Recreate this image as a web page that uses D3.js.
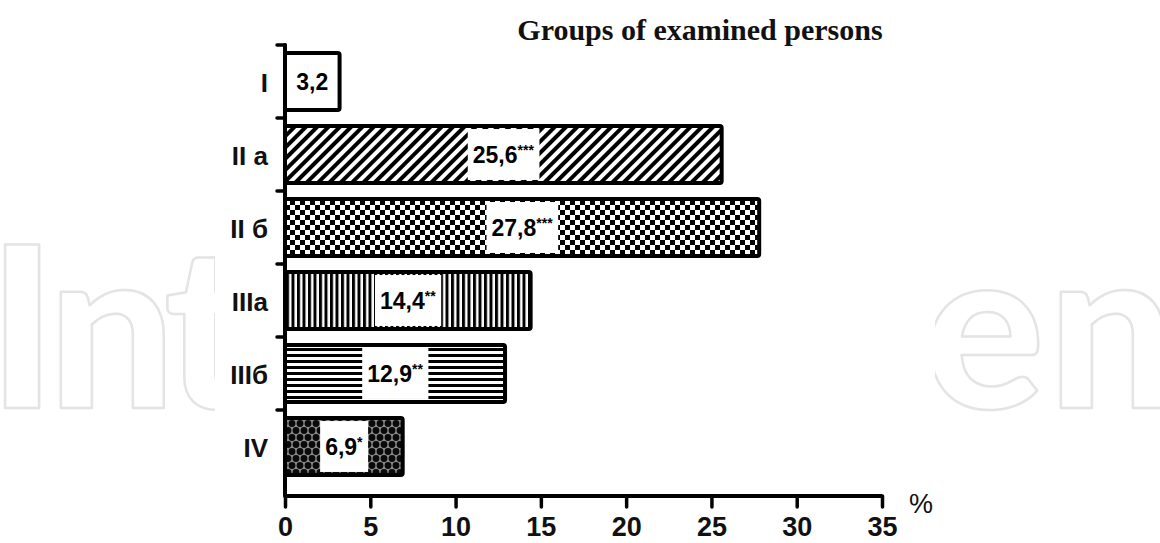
<!DOCTYPE html>
<html>
<head>
<meta charset="utf-8">
<script src="https://cdn.jsdelivr.net/npm/d3@7"></script>
<style>
  html, body { margin: 0; padding: 0; background: #fff; }
  svg { display: block; }
</style>
</head>
<body>
<svg id="chart" width="1160" height="543"></svg>
<script>
// Share of examined persons in each group, %
const categories = ["I", "II a", "II б", "IIIa", "IIIб", "IV"];
const values = [3.2, 25.6, 27.8, 14.4, 12.9, 6.9];
const significance = ["", "***", "***", "**", "**", "*"];
const xTicks = [0, 5, 10, 15, 20, 25, 30, 35];
const title = "Groups of examined persons";
const unit = "%";

// hatch fill per group, in category order
const fillIds = [null, "diag", "check", "vert", "horiz", "dots"];

const svg = d3.select("#chart");
const W = 1160, H = 543;
const defs = svg.append("defs");

// ---- faint publisher mark at the page edges (kept out of the chart panel) ----
defs.append("clipPath").attr("id", "edges")
  .call(cp => {
    cp.append("rect").attr("x", 0).attr("y", 0).attr("width", 215).attr("height", H);
    cp.append("rect").attr("x", 935).attr("y", 0).attr("width", W - 935).attr("height", H);
  });
const markG = svg.append("g").attr("clip-path", "url(#edges)");
function markPiece(str, xs) {
  const t = markG.append("text")
    .attr("y", 408)
    .attr("font-family", "Lato, Roboto, sans-serif")
    .attr("font-weight", 900)
    .attr("font-size", 225)
    .attr("fill", "#fff")
    .attr("stroke", "#e4e4e4")
    .attr("stroke-width", 2.5)
    .attr("stroke-linejoin", "round");
  str.split("").forEach((ch, i) => t.append("tspan").attr("x", xs[i]).text(ch));
}
markPiece("Int", [-12, 48, 164]);
markPiece("en", [924, 1048]);

// ---- patterns ----
const pDiag = defs.append("pattern").attr("id", "diag").attr("patternUnits", "userSpaceOnUse")
  .attr("width", 8).attr("height", 8).attr("patternTransform", "rotate(45)");
pDiag.append("rect").attr("width", 8).attr("height", 8).attr("fill", "#fff");
pDiag.append("rect").attr("width", 4).attr("height", 8).attr("fill", "#000");

const pCheck = defs.append("pattern").attr("id", "check").attr("patternUnits", "userSpaceOnUse")
  .attr("width", 10).attr("height", 10);
pCheck.append("rect").attr("width", 10).attr("height", 10).attr("fill", "#fff");
pCheck.append("rect").attr("width", 5).attr("height", 5).attr("fill", "#000");
pCheck.append("rect").attr("x", 5).attr("y", 5).attr("width", 5).attr("height", 5).attr("fill", "#000");

const pVert = defs.append("pattern").attr("id", "vert").attr("patternUnits", "userSpaceOnUse")
  .attr("width", 5.5).attr("height", 10);
pVert.append("rect").attr("width", 5.5).attr("height", 10).attr("fill", "#fff");
pVert.append("rect").attr("width", 3).attr("height", 10).attr("fill", "#000");

const pHoriz = defs.append("pattern").attr("id", "horiz").attr("patternUnits", "userSpaceOnUse")
  .attr("width", 10).attr("height", 6);
pHoriz.append("rect").attr("width", 10).attr("height", 6).attr("fill", "#fff");
pHoriz.append("rect").attr("width", 10).attr("height", 3).attr("fill", "#000");

const pDots = defs.append("pattern").attr("id", "dots").attr("patternUnits", "userSpaceOnUse")
  .attr("width", 8).attr("height", 14);
pDots.append("rect").attr("width", 8).attr("height", 14).attr("fill", "#8a8a8a");
[[4, 3.5], [0, 10.5], [8, 10.5]].forEach(([cx, cy]) =>
  pDots.append("circle").attr("cx", cx).attr("cy", cy).attr("r", 3.4).attr("fill", "#0a0a0a"));

// ---- scales ----
const x = d3.scaleLinear().domain([0, 35]).range([285, 882]);
const y = d3.scaleBand().domain(categories).range([45, 483])
  .paddingInner(0.22).paddingOuter(0.11);
const axisY = 496;

// ---- title ----
svg.append("text")
  .attr("x", 700).attr("y", 40)
  .attr("text-anchor", "middle")
  .attr("font-family", "Liberation Serif, Times New Roman, serif")
  .attr("font-weight", "bold")
  .attr("font-size", 30)
  .attr("fill", "#111")
  .text(title);

// ---- bars ----
const bars = svg.append("g");
categories.forEach((c, i) => {
  const v = values[i];
  const y0 = y(c), bh = y.bandwidth();
  bars.append("rect")
    .attr("x", x(0)).attr("y", y0)
    .attr("width", x(v) - x(0)).attr("height", bh)
    .attr("rx", 2)
    .attr("fill", fillIds[i] ? `url(#${fillIds[i]})` : "#fff")
    .attr("stroke", "#000").attr("stroke-width", 4);

  // value label, on a white box when the bar is hatched
  const cx = (x(0) + x(v)) / 2, cy = y0 + bh / 2;
  const g = bars.append("g");
  const t = g.append("text")
    .attr("x", cx).attr("y", cy + 8)
    .attr("text-anchor", "middle")
    .attr("font-family", "Liberation Sans, Arial, sans-serif")
    .attr("font-weight", "bold")
    .attr("font-size", 23)
    .attr("fill", "#000");
  t.append("tspan").text(String(v).replace(".", ","));
  if (significance[i]) {
    t.append("tspan").attr("font-size", 14).attr("dy", -8).text(significance[i]);
  }
  if (fillIds[i]) {
    const bb = t.node().getBBox();
    g.insert("rect", "text")
      .attr("x", bb.x - 5).attr("y", y0 + 3)
      .attr("width", bb.width + 10).attr("height", bh - 6)
      .attr("fill", "#fff");
  }
});

// ---- y axis ----
const axisG = svg.append("g").attr("stroke", "#000").attr("stroke-linecap", "round");
axisG.append("line")
  .attr("x1", x(0)).attr("x2", x(0))
  .attr("y1", y.range()[0]).attr("y2", axisY)
  .attr("stroke-width", 4);
d3.range(categories.length).forEach(i => {
  const ty = y.range()[0] + i * y.step();
  axisG.append("line")
    .attr("x1", x(0) - 8).attr("x2", x(0))
    .attr("y1", ty).attr("y2", ty)
    .attr("stroke-width", 3.5);
});

svg.append("g").selectAll("text").data(categories).join("text")
  .attr("x", 268)
  .attr("y", d => y(d) + y.bandwidth() / 2 + 10)
  .attr("text-anchor", "end")
  .attr("font-family", "Liberation Sans, Arial, sans-serif")
  .attr("font-weight", "bold")
  .attr("font-size", 26)
  .attr("fill", "#111")
  .text(d => d);

// ---- x axis ----
const xAxis = d3.axisBottom(x).tickValues(xTicks).tickSize(11).tickPadding(10).tickFormat(d3.format("d"));
const xg = svg.append("g").attr("transform", `translate(0,${axisY})`).call(xAxis);
xg.select(".domain").attr("stroke", "#000").attr("stroke-width", 4).attr("d", `M${x(0)},0H${x(35)}`);
xg.selectAll(".tick line").attr("stroke", "#000").attr("stroke-width", 3.5).attr("stroke-linecap", "round");
xg.selectAll(".tick text")
  .attr("font-family", "Liberation Sans, Arial, sans-serif")
  .attr("font-weight", "bold")
  .attr("font-size", 27)
  .attr("fill", "#111");

svg.append("text")
  .attr("x", 921).attr("y", 513)
  .attr("text-anchor", "middle")
  .attr("font-family", "Liberation Sans, Arial, sans-serif")
  .attr("font-size", 27)
  .attr("fill", "#111")
  .text(unit);
</script>
</body>
</html>
